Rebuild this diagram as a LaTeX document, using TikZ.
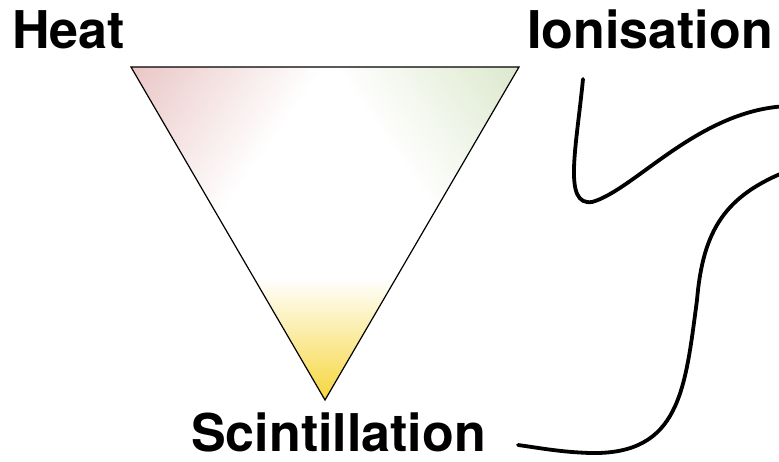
\documentclass[tikz,border=0pt]{standalone}
\usepackage{fontspec}
\setmainfont{TeX Gyre Heros}
\definecolor{heatred}{RGB}{234,198,198}
\definecolor{ionigreen}{RGB}{220,232,204}
\definecolor{scintyellow}{RGB}{246,214,60}
\tikzset{
  lbl/.style={anchor=base west, inner sep=0pt, font=\fontsize{52}{52}\selectfont\bfseries},
  wave/.style={line width=3.8pt, line cap=round},
}
\begin{document}
\begin{tikzpicture}[x=1pt,y=-1pt]
\useasboundingbox (0,0) rectangle (779,461);
\coordinate (tl) at (131,67);
\coordinate (tr) at (519,67);
\coordinate (bt) at (325,400);
\begin{scope}
  \clip (tl) -- (tr) -- (bt) -- cycle;
  \fill[white] (tl) -- (tr) -- (bt) -- cycle;
  \begin{scope}[transform canvas={shift={(131,67)}, rotate=-35}]
    \shade[left color=heatred, right color=white] (0,-300) rectangle (158,300);
  \end{scope}
  \begin{scope}[transform canvas={shift={(519,67)}, rotate=-145}]
    \shade[left color=ionigreen, right color=white] (0,-300) rectangle (152,300);
  \end{scope}
  \shade[top color=white, bottom color=scintyellow] (200,278) rectangle (450,400);
\end{scope}
\draw[line width=1.2pt, line join=miter] (tl) -- (tr) -- (bt) -- cycle;
\node[lbl] (heat) at (12,48) {Heat};
\node[lbl] (ion) at (527,48) {Ionisation};
\node[lbl] (scint) at (191,451) {Scintillation};
\begin{scope}
  \clip (0,0) rectangle (779,461);
  \coordinate (c1s) at (583,79);
  \coordinate (c1b) at (592,202);
  \coordinate (c1e) at (790,106);
  \draw[wave] (c1s) .. controls (576,150) and (563,206) .. (c1b) .. controls (635,190) and (700,108) .. (c1e);
  \coordinate (c2s) at (790,170);
  \coordinate (c2m) at (697,300);
  \coordinate (c2b) at (590,453);
  \coordinate (c2e) at (518,445);
  \draw[wave] (c2s) .. controls (725,195) and (703,230) .. (c2m) .. controls (685,390) and (680,455) .. (c2b) .. controls (560,452) and (540,448) .. (c2e);
\end{scope}
\end{tikzpicture}
\end{document}
